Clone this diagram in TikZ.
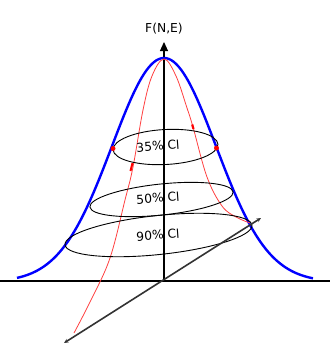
\documentclass[tikz,border=0pt]{standalone}
\usepackage{fontspec}
\setmainfont{DejaVu Sans}
\usetikzlibrary{arrows.meta}
\begin{document}
\begin{tikzpicture}[x=1pt,y=-1pt,
  axisline/.style={black, line width=1.1pt},
  bell/.style={blue, line width=2.4pt},
  path2/.style={red!75!white, line width=0.8pt},
  cilabel/.style={font=\fontsize{12.3}{13}\selectfont, rotate=4, inner sep=0pt},
  ci/.style={black, line width=0.9pt},
  dirline/.style={black!80, line width=1.6pt, {Stealth[length=4.5pt,width=4pt]}-{Stealth[length=4.5pt,width=4pt]}},
  dot/.style={circle, fill=red, inner sep=0pt, minimum size=5pt}]
\useasboundingbox (0,0) rectangle (330,349);
% axes
\coordinate (xl) at (0,281);
\coordinate (xr) at (330,281);
\coordinate (o) at (164,281);
\coordinate (top) at (164,42);
\draw[axisline] (xl) -- (xr);
\draw[axisline, -{Triangle[length=9pt,width=8pt]}] (o) -- (top);
\node[font=\fontsize{12.3}{13}\selectfont] (flab) at (164,29) {F(N,E)};
% blue bell curve
\draw[bell] plot[domain=-147:149, samples=120, smooth] ({164+\x}, {282-224*exp(-0.5*(\x/52)^2)});
% red curve
\draw[path2] plot[smooth, tension=0.6] coordinates {(74,333) (91,300) (110,258) (125,200) (133,167) (143,110) (152,76) (164,59) (176,76) (187,108) (193,127) (207,177) (222,206) (236,217) (250,223)};
\draw[red, line width=2pt] (130.5,171) -- (132.5,163);
\draw[red, line width=2.2pt] (192.2,124.5) -- (193.5,129);
% ellipses
\coordinate (e1) at (165.5,147);
\coordinate (e2) at (161.5,199.5);
\coordinate (e3) at (158.5,235);
\draw[ci, rotate around={3:(e1)}] (e1) ellipse (52.5 and 17.5);
\draw[ci, rotate around={6:(e2)}] (e2) ellipse (72 and 15.5);
\draw[ci, rotate around={6:(e3)}] (e3) ellipse (94 and 19.5);
\node[cilabel] (l1) at (158,146) {35\% Cl};
\node[cilabel] (l2) at (158,198) {50\% Cl};
\node[cilabel] (l3) at (158,235) {90\% Cl};
% red dots
\node[dot] (d1) at (113,148.5) {};
\node[dot] (d2) at (216.5,148) {};
% direction line
\coordinate (p1) at (64,343);
\coordinate (p2) at (261,218);
\draw[dirline] (p1) -- (p2);
\end{tikzpicture}
\end{document}
